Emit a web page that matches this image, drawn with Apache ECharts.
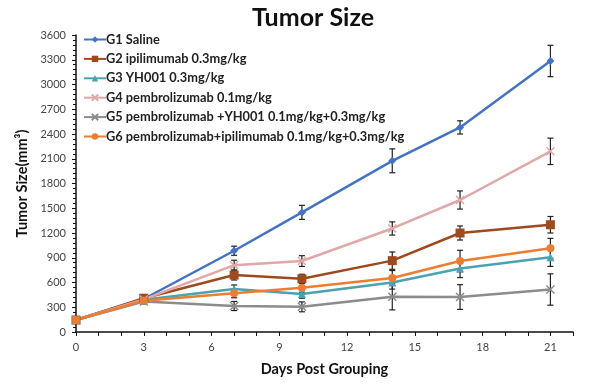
<!DOCTYPE html>
<html><head><meta charset="utf-8">
<script src="https://cdn.jsdelivr.net/npm/echarts@6/dist/echarts.min.js"></script>
<style>html,body{margin:0;padding:0;background:#fff}#c{width:593px;height:392px}</style>
</head><body><div id="c"></div>
<script>
const days = [0, 3, 7, 10, 14, 17, 21];
const names = ['G1 Saline','G2 ipilimumab 0.3mg/kg','G3 YH001 0.3mg/kg','G4 pembrolizumab 0.1mg/kg','G5 pembrolizumab +YH001 0.1mg/kg+0.3mg/kg','G6 pembrolizumab+ipilimumab 0.1mg/kg+0.3mg/kg'];
const g1 = [145, 400, 985, 1450, 2075, 2480, 3285];
const g2 = [145, 410, 690, 645, 865, 1200, 1300];
const g3 = [145, 390, 520, 460, 600, 770, 905];
const g4 = [145, 395, 810, 860, 1255, 1600, 2190];
const g5 = [145, 370, 315, 305, 428, 424, 515];
const g6 = [145, 380, 470, 537, 655, 860, 1015];
const e1 = [20, 30, 55, 85, 145, 80, 190];
const e2 = [20, 30, 60, 55, 105, 85, 100];
const e3 = [20, 30, 50, 50, 80, 110, 110];
const e4 = [20, 30, 60, 65, 80, 110, 160];
const e5 = [20, 30, 55, 60, 160, 150, 190];
const e6 = [20, 30, 55, 55, 90, 130, 120];
const colors = ['#4472C4','#9E4A1E','#4BA3AF','#E0A8A6','#8C8C8C','#ED7D31'];
const symbols = ['diamond','rect','triangle','path://M0,0L10,10M10,0L0,10','path://M0,0L10,10M10,0L0,10','circle'];
const symSizes = [8, 9, 8, 8, 8, 8];
const vals = [g1,g2,g3,g4,g5,g6];
const errs = [e1,e2,e3,e4,e5,e6];

const series = [];
vals.forEach((v,i)=>{
  series.push({
    type:'custom', name: names[i]+'_err', z:1, silent:true,
    data: days.map((d,k)=>[d, v[k]-errs[i][k], v[k]+errs[i][k]]),
    renderItem:(params, api)=>{
      const lo = api.coord([api.value(0), api.value(1)]);
      const hi = api.coord([api.value(0), api.value(2)]);
      const w = 3;
      const st = {stroke:'#222', lineWidth:1.2};
      return {type:'group', children:[
        {type:'line', shape:{x1:lo[0],y1:lo[1],x2:hi[0],y2:hi[1]}, style:st},
        {type:'line', shape:{x1:lo[0]-w,y1:lo[1],x2:lo[0]+w,y2:lo[1]}, style:st},
        {type:'line', shape:{x1:hi[0]-w,y1:hi[1],x2:hi[0]+w,y2:hi[1]}, style:st}
      ]};
    }
  });
});
vals.forEach((v,i)=>{
  const isX = i===3 || i===4;
  series.push({
    type:'line', name:names[i], z:3,
    data: days.map((d,k)=>[d, v[k]]),
    symbol: symbols[i], symbolSize: symSizes[i],
    lineStyle:{color:colors[i], width:2.5},
    itemStyle: isX ? {color:colors[i], borderColor:colors[i], borderWidth:1.5} : {color:colors[i]},
    color: colors[i]
  });
});

const chart = echarts.init(document.getElementById('c'), null, {renderer:'canvas'});
chart.setOption({
  animation:false,
  backgroundColor:'#fff',
  title:{text:'Tumor Size', left:308, top:0, textAlign:'center',
    textStyle:{fontFamily:'Lato', fontWeight:'bold', fontSize:25, color:'#111'}},
  legend:{
    data: names, orient:'vertical', left:78, top:28, itemGap:6.4,
    itemWidth:22, itemHeight:8,
    textStyle:{fontFamily:'Lato', fontWeight:'bold', fontSize:12.8, lineHeight:13, color:'#222', padding:[0,0,0,-5]}
  },
  grid:{left:76, right:20, top:35, bottom:60},
  xAxis:{
    type:'value', min:0, max:22, interval:1,
    name:'Days Post Grouping', nameLocation:'middle', nameGap:30,
    nameTextStyle:{fontFamily:'Lato', fontWeight:'bold', fontSize:14.5, color:'#111'},
    axisLine:{show:true, onZero:false, lineStyle:{color:'#111', width:1.5}},
    axisTick:{show:true, inside:false, length:4, lineStyle:{color:'#111'}},
    axisLabel:{fontFamily:'Lato', fontSize:11, color:'#444', margin:10,
      formatter:v=> (v%3===0 && v<=21) ? String(v) : ''},
    splitLine:{show:false}
  },
  yAxis:{
    type:'value', min:0, max:3600, interval:300,
    name:'Tumor Size(mm³)', nameLocation:'middle', nameGap:46, nameRotate:90,
    nameTextStyle:{fontFamily:'Lato', fontWeight:'bold', fontSize:14.5, color:'#111'},
    axisLine:{show:true, lineStyle:{color:'#111', width:1.5}},
    axisTick:{show:true, inside:false, length:4, lineStyle:{color:'#111'}},
    minorTick:{show:true, splitNumber:5, length:3, lineStyle:{color:'#111'}},
    axisLabel:{fontFamily:'Lato', fontSize:11, color:'#444', margin:10, formatter:v=>String(v)},
    splitLine:{show:false}
  },
  series: series
});
</script></body></html>
